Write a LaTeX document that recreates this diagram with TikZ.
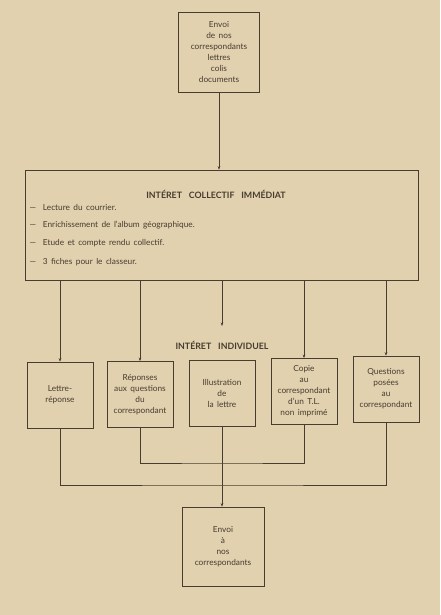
\documentclass[tikz,border=0pt]{standalone}
\usepackage{fontspec}
\setmainfont{Lato}[WordSpace=1.6]
\usetikzlibrary{arrows.meta,scopes}
\definecolor{paper}{RGB}{226,209,174}
\definecolor{ink}{RGB}{70,60,48}

\begin{document}
\begin{tikzpicture}[x=1pt,y=-1pt,
  box/.style={draw=ink,line width=0.7pt,align=center,inner sep=0pt,text=ink,
    font=\fontsize{8.3}{11}\selectfont},
  smallbox/.style={box,minimum width=66pt,minimum height=66pt},
  feed/.style={draw=ink,line width=0.5pt,-{Stealth[length=3.5pt,width=2.6pt]}},
  linkline/.style={draw=ink,line width=0.5pt},
  heading/.style={text=ink,font=\bfseries\fontsize{8.8}{10}\selectfont}]
  \fill[paper] (0,0) rectangle (440,615);
  \useasboundingbox (0,0) rectangle (440,615);
  % arrivee du courrier
  \node[box,minimum width=81pt,minimum height=80pt] (envoi) at (219,52)
    {Envoi\\de nos\\correspondants\\lettres\\colis\\documents};
  \node[box,minimum width=393pt,minimum height=110pt] (collectif) at (221.5,225) {};
  \node[heading] (titrecoll) at (216,194) {INTÉRET\ \ COLLECTIF\ \ IMMÉDIAT};
  { [every node/.style={anchor=west,text=ink,font=\fontsize{8.3}{9}\selectfont}]
    \node (lecture) at (26,207) {---\ \ Lecture du courrier.};
    \node (album) at (26,225) {---\ \ Enrichissement de l'album géographique.};
    \node (etude) at (26,243) {---\ \ Etude et compte rendu collectif.};
    \node (fiches) at (26,262) {---\ \ 3 fiches pour le classeur.};
  }
  \node[heading] (titreind) at (222,345) {INTÉRET\ \ INDIVIDUEL};
  \coordinate (milieu) at (222,326);
  % travail individuel
  \node[smallbox] (lettre) at (60,395) {Lettre-\\réponse};
  \node[smallbox] (reponses) at (140,394.5) {Réponses\\aux questions\\du\\correspondant};
  \node[smallbox] (illustration) at (222,393.5) {Illustration\\de\\la lettre};
  \node[smallbox] (copie) at (304,391.5) {Copie\\au\\correspondant\\d'un T.L.\\non imprimé};
  \node[smallbox] (questions) at (386,389) {Questions\\posées\\au\\correspondant};
  \node[box,minimum width=82pt,minimum height=79pt] (retour) at (223,546.5)
    {Envoi\\à\\nos\\correspondants};
  \draw[feed] (envoi.south) -- (envoi.south |- collectif.north);
  \foreach \b in {lettre,reponses,copie,questions}
    \draw[feed] (collectif.south -| \b.north) -- (\b.north);
  \draw[feed] (collectif.south -| milieu) -- (milieu);
  \coordinate (haut) at (222,463);
  \coordinate (bas) at (222,485);
  \draw[linkline] (reponses.south) |- (haut) -| (copie.south);
  \draw[linkline] (lettre.south) |- (bas) -| (questions.south);
  \draw[feed] (illustration.south) -- (illustration.south |- retour.north);
\end{tikzpicture}
\end{document}
